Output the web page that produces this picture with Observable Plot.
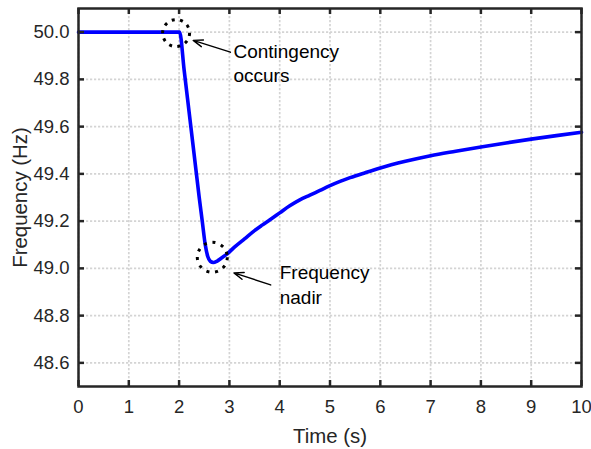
<!DOCTYPE html>
<html><head><meta charset="utf-8">
<script src="https://cdn.jsdelivr.net/npm/d3@7"></script>
<script src="https://cdn.jsdelivr.net/npm/@observablehq/plot@0.6"></script>
<style>
body{margin:0;background:#fff;}
svg{display:block}
g[aria-label="x-axis label"], g[aria-label="y-axis label"]{font-size:20.4px}
</style>
</head><body><div id="chart"></div>
<script>
// Frequency response after a contingency
const time = [0, 2.01, 2.1, 2.2, 2.3, 2.4, 2.46, 2.52, 2.57, 2.62, 2.68, 2.75, 2.85, 2.95, 3.1, 3.3, 3.5, 3.65, 3.8, 4.0, 4.2, 4.4, 4.6, 4.8, 5.0, 5.2, 5.4, 5.7, 6.0, 6.5, 7.0, 7.5, 8.0, 8.5, 9.0, 9.5, 10];
const freq = [50.0, 50.0, 49.84, 49.66, 49.48, 49.30, 49.2, 49.1, 49.05, 49.03, 49.025, 49.03, 49.045, 49.06, 49.09, 49.125, 49.16, 49.183, 49.205, 49.235, 49.265, 49.29, 49.31, 49.33, 49.35, 49.368, 49.384, 49.405, 49.425, 49.453, 49.477, 49.496, 49.514, 49.531, 49.547, 49.562, 49.576];

const xTicks = [0, 1, 2, 3, 4, 5, 6, 7, 8, 9, 10];
const yTicks = [48.6, 48.8, 49.0, 49.2, 49.4, 49.6, 49.8, 50.0];
const xDomain = [0, 10];
const yDomain = [48.5, 50.1];

// annotation anchors (data units)
const markerT = [1.94, 2.66];
const markerF = [49.996, 49.047];
const noteText = ["Contingency\noccurs", "Frequency\nnadir"];
const noteT = [3.08, 4.0];
const noteF = [49.873, 48.936];
const arrowFromT = [3.02, 3.82];
const arrowFromF = [49.915, 48.930];
const arrowToT = [2.28, 3.09];
const arrowToF = [49.965, 48.981];

const series = time.map((t, i) => ({t, f: freq[i]}));
const markers = markerT.map((t, i) => ({t, f: markerF[i]}));
const notes = noteText.map((s, i) => ({s, t: noteT[i], f: noteF[i]}));
const arrows = arrowFromT.map((t, i) => ({x1: t, y1: arrowFromF[i], x2: arrowToT[i], y2: arrowToF[i]}));

const W = 591, H = 449;
const mL = 78, mR = 10, mT = 8, mB = 63;
const fw = W - mL - mR, fh = H - mT - mB;
const ink = "#262626";
const gridStyle = {stroke: "#d4d4d4", strokeOpacity: 1, strokeWidth: 1.7, strokeDasharray: "2.2,1.8"};
const tickStyle = {stroke: ink, strokeWidth: 2.5};

const chart = Plot.plot({
  width: W, height: H,
  marginLeft: mL, marginRight: mR, marginTop: mT, marginBottom: mB,
  style: {fontFamily: "'Liberation Sans', Arial, sans-serif", background: "white", color: ink},
  x: {domain: xDomain},
  y: {domain: yDomain},
  marks: [
    Plot.gridX(xTicks, gridStyle),
    Plot.gridY(yTicks, gridStyle),
    Plot.line(series, {x: "t", y: "f", stroke: "#0000ff", strokeWidth: 3.6, curve: "monotone-x"}),
    Plot.tickX(xTicks, {x: d => d, insetTop: fh - 6, ...tickStyle}),
    Plot.tickX(xTicks, {x: d => d, insetBottom: fh - 6, ...tickStyle}),
    Plot.tickY(yTicks, {y: d => d, insetRight: fw - 6, ...tickStyle}),
    Plot.tickY(yTicks, {y: d => d, insetLeft: fw - 6, ...tickStyle}),
    Plot.frame({stroke: ink, strokeWidth: 2.5}),
    Plot.axisX(xTicks, {tickSize: 0, tickPadding: 13, fontSize: 18.5, fill: ink, tickFormat: d => String(d),
      label: "Time (s)", labelAnchor: "center", labelArrow: "none", labelOffset: 56}),
    Plot.axisY(yTicks, {tickSize: 0, tickPadding: 9, fontSize: 18.5, fill: ink, tickFormat: d => d.toFixed(1),
      label: "Frequency (Hz)", labelAnchor: "center", labelArrow: "none", labelOffset: 66}),
    Plot.dot([markers[0]], {x: "t", y: "f", r: 13.5, fill: "none", stroke: "black", strokeWidth: 3, strokeDasharray: "3,5.4"}),
    Plot.dot([markers[1]], {x: "t", y: "f", r: 15, fill: "none", stroke: "black", strokeWidth: 3, strokeDasharray: "3,5.8"}),
    Plot.arrow(arrows, {x1: "x1", y1: "y1", x2: "x2", y2: "y2", stroke: "black", strokeWidth: 1.4, headLength: 11, headAngle: 40}),
    Plot.text(notes, {x: "t", y: "f", text: "s", textAnchor: "start", lineAnchor: "middle", lineHeight: 1.29, fontSize: 19, fill: "black"})
  ]
});
document.getElementById("chart").appendChild(chart);
</script>
</body></html>
